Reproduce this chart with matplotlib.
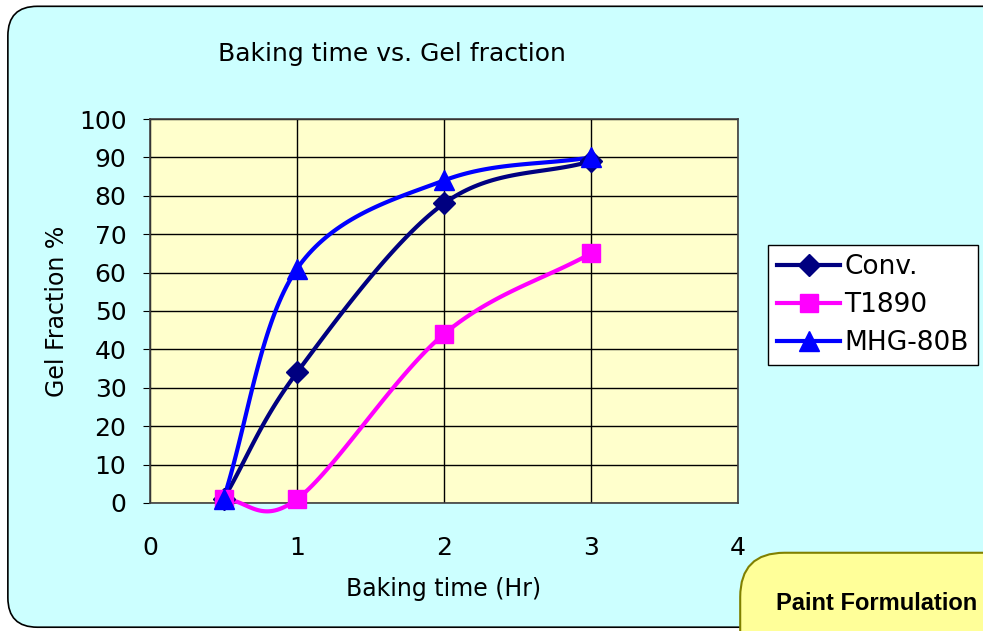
import matplotlib.pyplot as plt
import numpy as np
from matplotlib.patches import FancyBboxPatch

plt.rcParams['font.family'] = ['DejaVu Sans']

# data
hours = [0.5, 1, 2, 3]
conv = [1, 34, 78, 89]
t1890 = [1, 1, 44, 65]
mhg = [1, 61, 84, 90]
series_names = ['Conv.', 'T1890', 'MHG-80B']


def smooth(x, y, n=40):
    # Catmull-Rom style smoothing like Excel "smoothed line"
    x = np.asarray(x, float)
    y = np.asarray(y, float)
    px = np.concatenate([[2 * x[0] - x[1]], x, [2 * x[-1] - x[-2]]])
    py = np.concatenate([[2 * y[0] - y[1]], y, [2 * y[-1] - y[-2]]])
    xs, ys = [], []
    for i in range(1, len(px) - 2):
        t = np.linspace(0, 1, n)
        for p, out in ((px, xs), (py, ys)):
            p0, p1, p2, p3 = p[i - 1], p[i], p[i + 1], p[i + 2]
            c1 = p1 + (p2 - p0) / 6
            c2 = p2 - (p3 - p1) / 6
            out.extend((1 - t) ** 3 * p1 + 3 * (1 - t) ** 2 * t * c1
                       + 3 * (1 - t) * t ** 2 * c2 + t ** 3 * p2)
    return xs, ys


fig = plt.figure(figsize=(9.83, 6.31), dpi=100)
fig.patch.set_facecolor('white')

bg = FancyBboxPatch((0.008, 0.006), 1.05, 0.984,
                    boxstyle='round,pad=0,rounding_size=0.03',
                    transform=fig.transFigure, facecolor='#CCFFFF',
                    edgecolor='black', linewidth=1.2, mutation_aspect=983 / 631,
                    zorder=-10)
fig.patches.append(bg)

ax = fig.add_axes([0.1526, 0.2029, 0.5982, 0.6085])
ax.set_facecolor('#FFFFCC')

styles = [('#000080', 'D', 11), ('#FF00FF', 's', 13), ('#0000FF', '^', 14)]
for yv, name, (c, m, ms) in zip([conv, t1890, mhg], series_names, styles):
    sx, sy = smooth(hours, yv)
    ax.plot(sx, sy, color=c, lw=3, zorder=3, clip_on=False)
    ax.plot(hours, yv, linestyle='none', marker=m, color=c, ms=ms, zorder=4, clip_on=False)
    ax.plot([], [], color=c, lw=3, marker=m, ms=ms, label=name)

ax.set_xlim(0, 4)
ax.set_ylim(0, 100)
ax.set_xticks([0, 1, 2, 3, 4])
ax.set_yticks(range(0, 101, 10))
ax.grid(True, color='black', lw=1)
ax.set_axisbelow(True)
for s in ax.spines.values():
    s.set_color('#404040')
    s.set_linewidth(1.2)
ax.tick_params(labelsize=18, length=5, direction='out', pad=12)
ax.tick_params(axis='x', length=0, pad=24)
ax.set_xlabel('Baking time (Hr)', fontsize=17, labelpad=12)
ax.set_ylabel('Gel Fraction %', fontsize=17, labelpad=7)

fig.text(0.399, 0.915, 'Baking time vs. Gel fraction', fontsize=18, ha='center', va='center')

leg = fig.legend(loc='upper left', bbox_to_anchor=(0.781, 0.612), fontsize=19,
                 frameon=True, fancybox=False, edgecolor='black', framealpha=1,
                 handlelength=2.4, borderpad=0.35, labelspacing=0.45,
                 handletextpad=0.15, borderaxespad=0)
leg.get_frame().set_facecolor('white')
leg.get_frame().set_linewidth(1)

box = FancyBboxPatch((0.753, -0.1), 0.4, 0.224,
                     boxstyle='round,pad=0,rounding_size=0.045',
                     transform=fig.transFigure, facecolor='#FFFF99',
                     edgecolor='#808000', linewidth=1.5, mutation_aspect=983 / 631)
fig.patches.append(box)
fig.text(0.789, 0.043, 'Paint Formulation', fontsize=17, fontweight='bold',
         family='Liberation Sans', ha='left', va='center')

fig.savefig('out.png', dpi=100)
